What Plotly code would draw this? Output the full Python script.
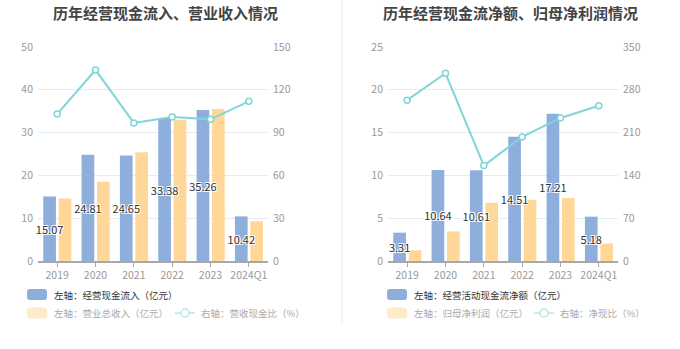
import plotly.graph_objects as go

W, H = 680, 349

categories = ["2019", "2020", "2021", "2022", "2023", "2024Q1"]

# Left chart
cash_inflow = [15.07, 24.81, 24.65, 33.38, 35.26, 10.42]
revenue = [14.6, 18.5, 25.4, 33.0, 35.5, 9.3]
cash_rev_ratio = [103.0, 133.9, 96.8, 101.0, 99.3, 111.9]

# Right chart
op_net_cash = [3.31, 10.64, 10.61, 14.51, 17.21, 5.18]
net_profit = [1.26, 3.46, 6.80, 7.15, 7.35, 2.04]
net_cash_ratio = [263, 307, 156, 203, 234, 254]

left_ticks = [0, 10, 20, 30, 40, 50]
left_rticks = [0, 30, 60, 90, 120, 150]
right_ticks = [0, 5, 10, 15, 20, 25]
right_rticks = [0, 70, 140, 210, 280, 350]

titles = ["历年经营现金流入、营业收入情况", "历年经营现金流净额、归母净利润情况"]
legend_left = ["左轴：经营现金流入（亿元）", "左轴：营业总收入（亿元）", "右轴：营收现金比（%）"]
legend_right = ["左轴：经营活动现金流净额（亿元）", "左轴：归母净利润（亿元）", "右轴：净现比（%）"]

BLUE = "#8eaedc"
ORANGE = "#ffd899"
CYAN = "#80d5d9"
FONT = "Noto Sans CJK SC"
SHADOW = "1px 1px 0px #fff, -1px -1px 0px #fff, 1px -1px 0px #fff, -1px 1px 0px #fff"

BAR_W = 0.331
BLUE_OFF = -0.363
ORANGE_OFF = 0.039


def px(x):
    return x / W


def py(y):
    return 1 - y / H


fig = go.Figure()


def add_chart(xa, ya, ya2, bars1, bars2, line):
    # orange first so the blue bar labels sit on top of it
    fig.add_trace(go.Bar(
        x=categories, y=bars2, xaxis=xa, yaxis=ya, marker=dict(color=ORANGE, line=dict(width=0)),
        width=BAR_W, offset=ORANGE_OFF, showlegend=False,
    ))
    fig.add_trace(go.Bar(
        x=categories, y=bars1, xaxis=xa, yaxis=ya, marker=dict(color=BLUE, line=dict(width=0)),
        width=BAR_W, offset=BLUE_OFF,
        text=[f"{v:.2f}" for v in bars1], textposition="inside",
        insidetextanchor="middle", textangle=0, constraintext="none",
        textfont=dict(family=FONT, size=11, color="#333", shadow=SHADOW),
        showlegend=False, cliponaxis=False,
    ))
    fig.add_trace(go.Scatter(
        x=categories, y=line, xaxis=xa, yaxis=ya2, mode="lines+markers",
        line=dict(color=CYAN, width=2),
        marker=dict(symbol="circle", size=6, color="white", line=dict(color=CYAN, width=1.5)),
        showlegend=False,
    ))


add_chart("x", "y", "y2", cash_inflow, revenue, cash_rev_ratio)
add_chart("x2", "y3", "y4", op_net_cash, net_profit, net_cash_ratio)

ydom = [py(261), py(47)]
tickfont = dict(family=FONT, size=10.5, color="#999")
xcommon = dict(type="category", showgrid=False, showline=True, linecolor="#a8a8a8", linewidth=1.5,
               ticks="outside", ticklen=4, tickcolor="#a8a8a8", tickfont=tickfont, fixedrange=True,
               automargin=False, zeroline=False)
ycommon = dict(showline=False, zeroline=False, tickfont=tickfont, ticks="", automargin=False,
               fixedrange=True, ticklabelstandoff=4)

fig.update_layout(
    width=W, height=H,
    margin=dict(l=0, r=0, t=0, b=0, pad=0, autoexpand=False),
    paper_bgcolor="white", plot_bgcolor="white",
    barmode="overlay",
    font=dict(family=FONT),
    xaxis=dict(domain=[px(38), px(268)], anchor="y", **xcommon),
    yaxis=dict(domain=ydom, anchor="x", range=[0, 50], tickvals=left_ticks,
               showgrid=True, gridcolor="#e6ebf4", gridwidth=1, **ycommon),
    yaxis2=dict(overlaying="y", side="right", anchor="x", range=[0, 150], tickvals=left_rticks,
                showgrid=False, **ycommon),
    xaxis2=dict(domain=[px(388), px(618)], anchor="y3", **xcommon),
    yaxis3=dict(domain=ydom, anchor="x2", range=[0, 25], tickvals=right_ticks,
                showgrid=True, gridcolor="#e6ebf4", gridwidth=1, **ycommon),
    yaxis4=dict(overlaying="y3", side="right", anchor="x2", range=[0, 350], tickvals=right_rticks,
                showgrid=False, **ycommon),
)

annotations = []
shapes = []

# Titles
for title, cx in zip(titles, [165, 510]):
    annotations.append(dict(text=f"<b>{title}</b>", x=px(cx), y=py(12), xref="paper", yref="paper",
                            xanchor="center", yanchor="middle", showarrow=False,
                            font=dict(family=FONT, size=15, color="#444")))

# Separator
shapes.append(dict(type="line", xref="paper", yref="paper", x0=px(342), x1=px(342),
                   y0=py(0), y1=py(325), line=dict(color="#eeeeee", width=1)))


def rounded_rect(x0, y0, x1, y1, r, color):
    X0, X1 = px(x0), px(x1)
    Y0, Y1 = py(y1), py(y0)
    rx, ry = r / W, r / H
    path = (f"M {X0+rx},{Y0} L {X1-rx},{Y0} Q {X1},{Y0} {X1},{Y0+ry} L {X1},{Y1-ry} "
            f"Q {X1},{Y1} {X1-rx},{Y1} L {X0+rx},{Y1} Q {X0},{Y1} {X0},{Y1-ry} "
            f"L {X0},{Y0+ry} Q {X0},{Y0} {X0+rx},{Y0} Z")
    return dict(type="path", xref="paper", yref="paper", path=path,
                fillcolor=color, line=dict(width=0))


LEG_SIZE = 9.5


def add_legend(x0, labels, line_x0):
    r1, r2 = 294.5, 313
    shapes.append(rounded_rect(x0, r1 - 5.5, x0 + 20, r1 + 5.5, 3, BLUE))
    shapes.append(rounded_rect(x0, r2 - 5.5, x0 + 20, r2 + 5.5, 3, "#fdebca"))
    annotations.append(dict(text=labels[0], x=px(x0 + 25), y=py(r1), xref="paper", yref="paper",
                            xanchor="left", yanchor="middle", showarrow=False,
                            font=dict(family=FONT, size=LEG_SIZE, color="#333")))
    annotations.append(dict(text=labels[1], x=px(x0 + 25), y=py(r2), xref="paper", yref="paper",
                            xanchor="left", yanchor="middle", showarrow=False,
                            font=dict(family=FONT, size=LEG_SIZE, color="#aaa")))
    shapes.append(dict(type="line", xref="paper", yref="paper", x0=px(line_x0), x1=px(line_x0 + 20),
                       y0=py(r2), y1=py(r2), line=dict(color="#b8e8ea", width=1.5)))
    cx = line_x0 + 10
    shapes.append(dict(type="circle", xref="paper", yref="paper", x0=px(cx - 4), x1=px(cx + 4),
                       y0=py(r2 + 4), y1=py(r2 - 4), fillcolor="white",
                       line=dict(color="#b8e8ea", width=1.5)))
    annotations.append(dict(text=labels[2], x=px(line_x0 + 24), y=py(r2), xref="paper", yref="paper",
                            xanchor="left", yanchor="middle", showarrow=False,
                            font=dict(family=FONT, size=LEG_SIZE, color="#aaa")))


add_legend(27, legend_left, 175)
add_legend(387, legend_right, 534)

fig.update_layout(annotations=annotations, shapes=shapes)

fig.write_html("out.html")
